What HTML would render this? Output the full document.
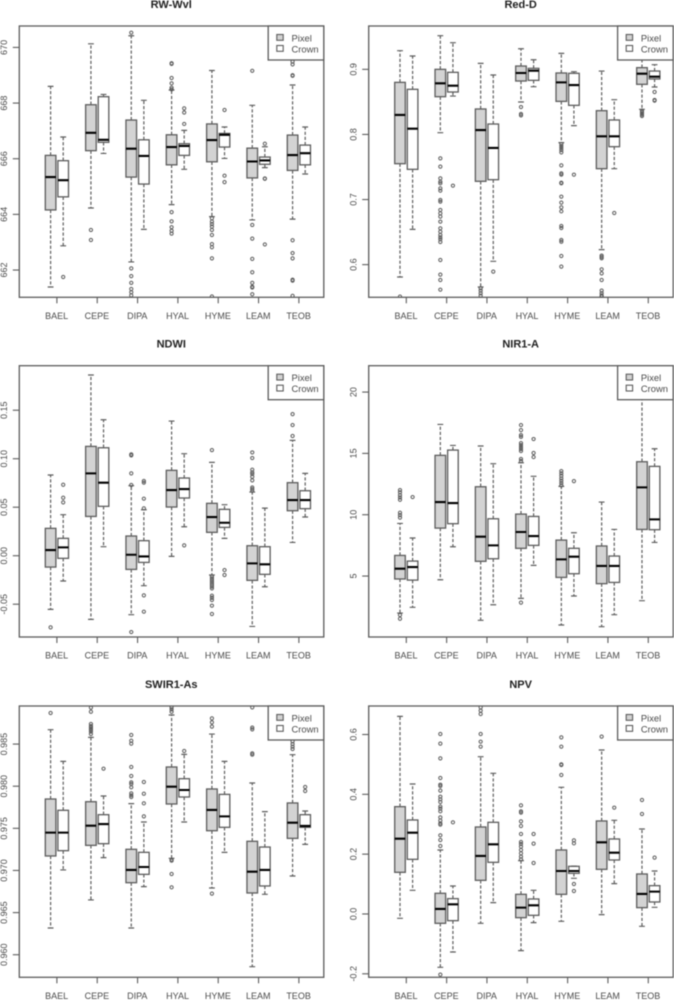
<!DOCTYPE html>
<html lang="en">
<head>
<meta charset="utf-8">
<title>Boxplots by species</title>
<style>
html,body{margin:0;padding:0;background:#fff;width:674px;height:1000px;overflow:hidden}
svg{display:block;font-family:"Liberation Sans",sans-serif;filter:blur(0.4px)}
</style>
</head>
<body>
<svg id="chart" width="674" height="1000" viewBox="0 0 674 1000" xmlns="http://www.w3.org/2000/svg"></svg>
<script>
const categories = ['BAEL','CEPE','DIPA','HYAL','HYME','LEAM','TEOB'];
const seriesNames = ['Pixel','Crown'];

/* Each stats row: lower whisker, Q1, median, Q3, upper whisker */
const rwTicks = ['662','664','666','668','670'];
const rwDomain = [661.02, 670.77];
const rwPixel = [[661.39,664.16,665.34,666.12,668.6],[664.23,666.29,666.93,667.94,670.13],[662.29,665.34,666.36,667.39,670.42],[664.35,665.78,666.42,666.86,668.47],[663.92,665.89,666.67,667.25,669.17],[663.8,665.31,665.9,666.38,667.92],[663.83,665.58,666.13,666.85,668.65]];
const rwCrown = [[662.87,664.63,665.23,665.93,666.78],[666.19,666.59,666.68,668.23,668.31],[663.46,665.09,666.1,666.68,668.1],[665.62,666.12,666.46,666.54,667.02],[666.01,666.42,666.86,666.91,667.14],[665.68,665.8,665.94,666.06,666.43],[665.45,665.78,666.2,666.49,667.14]];
const rwPixelOut = [[],[663.44,663.08],[670.53,662.06,661.78,661.54,661.32,661.2,661.09],[669.43,669.41,668.9,668.71,668.55,668.49,664.08,663.75,663.54,663.41,663.31],[663.86,663.74,663.65,663.56,663.44,663.26,662.93,662.82,662.42,661.05],[669.16,663.62,663.13,662.4,661.92,661.54,661.4,661.37,661.13],[669.49,669.39,669.0,668.98,663.07,662.61,662.42,661.65,661.62,661.07]];
const rwCrownOut = [[661.75],[],[],[667.81,667.66,667.25],[667.75,665.39,665.16],[666.54,665.29,665.28,662.92],[]];

const redTicks = ['0.6','0.7','0.8','0.9'];
const redDomain = [0.5498, 0.9666];
const redPixel = [[0.581,0.7551,0.8299,0.88,0.9287],[0.8027,0.858,0.8785,0.9,0.9517],[0.5656,0.728,0.8068,0.8391,0.9092],[0.8498,0.8821,0.8944,0.9051,0.9317],[0.7874,0.8508,0.88,0.8944,0.9246],[0.623,0.7474,0.7971,0.8365,0.8974],[0.8386,0.877,0.8933,0.9026,0.9169]];
const redCrown = [[0.6542,0.7464,0.8089,0.8693,0.9205],[0.859,0.8652,0.8749,0.8954,0.941],[0.6051,0.7305,0.7792,0.816,0.8913],[0.8734,0.8831,0.898,0.9015,0.9148],[0.8135,0.8447,0.8759,0.8939,0.8964],[0.7474,0.7812,0.7971,0.8222,0.8534],[0.8729,0.8852,0.8887,0.8974,0.9072]];
const redPixelOut = [[0.5508],[0.7633,0.7505,0.7326,0.7274,0.7249,0.7172,0.7136,0.6993,0.6967,0.684,0.6788,0.6737,0.666,0.6558,0.6506,0.6455,0.6419,0.6389,0.6348,0.6071,0.5846,0.5764,0.5615],[0.5636,0.56,0.556,0.5523],[0.8421,0.8314,0.8293],[0.7853,0.7822,0.7791,0.776,0.7725,0.7525,0.7402,0.7382,0.7259,0.7249,0.7044,0.6952,0.688,0.6819,0.6593,0.6563,0.6378,0.6352,0.6133,0.5969],[0.6138,0.6117,0.6097,0.5928,0.5866,0.5764,0.56,0.556,0.5528,0.5508],[0.8365,0.8345,0.8324,0.8304,0.8283]];
const redCrownOut = [[],[0.7213],[0.5892],[],[0.7382],[0.6793],[0.8652,0.8529,0.8519]];

const ndwiTicks = ['-0.05','0.00','0.05','0.10','0.15'];
const ndwiDomain = [-0.0838, 0.1959];
const ndwiPixel = [[-0.0553,-0.0117,0.0058,0.0282,0.0832],[-0.0656,0.0405,0.0849,0.1127,0.1863],[-0.0608,-0.0141,0.001,0.0203,0.0722],[-0.0007,0.0502,0.0677,0.088,0.1388],[-0.0199,0.0241,0.0399,0.054,0.0962],[-0.0729,-0.0254,-0.0079,0.0103,0.0656],[0.0137,0.0464,0.0574,0.0753,0.1189]];
const ndwiCrown = [[-0.0261,-0.0027,0.0086,0.0179,0.0423],[0.0093,0.0509,0.0753,0.1113,0.1402],[-0.0309,-0.0069,-0.0007,0.0155,0.0474],[0.0299,0.0595,0.0687,0.0801,0.1052],[0.0179,0.0292,0.034,0.0478,0.0526],[-0.032,-0.0192,-0.0089,0.0093,0.0491],[0.0399,0.0485,0.0574,0.067,0.0849]];
const ndwiPixelOut = [[-0.0739],[],[0.1045,0.1034,0.0849,0.0729,-0.0787],[],[0.1089,-0.0216,-0.0234,-0.0251,-0.0268,-0.0285,-0.0302,-0.0319,-0.0337,-0.0412,-0.0433,-0.0457,-0.0515,-0.0601],[0.1065,0.1007,0.0887,0.0859,0.0842,0.0814,0.0777,0.0704,0.0687,0.067],[0.146,0.1347,0.1234]];
const ndwiCrownOut = [[0.0732,0.0598,0.055],[],[0.077,0.0753,0.0588,0.0488,-0.0409,-0.0577],[0.0107],[-0.0148,-0.0199],[],[]];

const nirTicks = ['5','10','15','20'];
const nirDomain = [0.03, 22.15];
const nirPixel = [[1.98,4.76,5.6,6.68,9.29],[4.7,8.91,11.03,14.84,17.36],[1.39,6.2,8.21,12.28,15.6],[3.18,7.26,8.59,10.05,14.24],[1.01,4.89,6.36,7.93,12.31],[0.87,4.38,5.82,7.45,11.03],[2.99,8.8,12.23,14.32,20.5]];
const nirCrown = [[2.45,4.67,5.73,6.22,8.1],[7.39,9.27,10.95,15.27,15.65],[2.66,6.41,7.5,9.67,14.16],[5.87,7.5,8.26,9.86,13.13],[3.37,5.19,6.58,7.26,8.53],[1.85,4.48,5.82,6.63,8.8],[7.74,8.78,9.62,13.94,15.38]];
const nirPixelOut = [[12.01,11.82,11.6,11.41,11.22,10.16,9.97,9.76,1.82,1.52],[],[],[17.31,16.9,16.49,16.35,15.84,15.68,15.51,15.35,15.19,14.54,14.38,2.83],[13.56,13.37,13.18,12.96,12.77,12.58,12.39],[],[]];
const nirCrownOut = [[11.44],[],[],[16.17,15.03,14.7],[12.74],[],[]];

const swirTicks = ['0.960','0.965','0.970','0.975','0.980','0.985'];
const swirDomain = [0.95732, 0.98952];
const swirPixel = [[0.96317,0.97172,0.97449,0.97848,0.98671],[0.9665,0.97298,0.97532,0.97816,0.9858],[0.96317,0.96855,0.97006,0.97251,0.97793],[0.97144,0.97789,0.97994,0.98228,0.98845],[0.96792,0.97472,0.97718,0.97967,0.98619],[0.95858,0.96733,0.96986,0.97346,0.98038],[0.96934,0.97381,0.97567,0.97801,0.98374]];
const swirCrown = [[0.97006,0.97235,0.97449,0.97714,0.98295],[0.97152,0.97318,0.97551,0.97662,0.97884],[0.96808,0.96954,0.97041,0.97215,0.97575],[0.97575,0.97872,0.97955,0.98089,0.98378],[0.97215,0.97512,0.97642,0.97903,0.98295],[0.96717,0.96816,0.97006,0.97278,0.97698],[0.9731,0.97512,0.97528,0.97662,0.97706]];
const swirPixelOut = [[0.98869],[0.98932,0.98884,0.98738,0.98714,0.98698,0.98682,0.98667,0.98647,0.98619],[0.98608,0.9854,0.98505,0.98228,0.98121,0.98046,0.98026,0.97987,0.97915,0.97892,0.97872],[0.98936,0.98912,0.98884,0.97128,0.97116,0.96958,0.968],[0.98805,0.98758,0.98707,0.96725],[0.98936,0.98695,0.98675,0.9839,0.98374],[0.98532,0.985,0.98469,0.98441]];
const swirCrownOut = [[],[0.98208],[0.9805,0.97911,0.97797,0.97642],[0.98418],[],[],[0.97991,0.97943]];

const npvTicks = ['-0.2','0.0','0.2','0.4','0.6'];
const npvDomain = [-0.2117, 0.6953];
const npvPixel = [[-0.0145,0.1393,0.2518,0.3588,0.6607],[-0.1783,-0.0312,0.0167,0.0691,0.2139],[-0.0312,0.1125,0.1939,0.2908,0.5259],[-0.1226,-0.0123,0.0212,0.0657,0.1783],[-0.0245,0.0657,0.1437,0.2139,0.4234],[-0.0022,0.1493,0.2396,0.3109,0.5482],[-0.0412,0.0212,0.0669,0.1337,0.2841]];
const npvCrown = [[0.0791,0.1827,0.2719,0.3142,0.4345],[-0.127,-0.0223,0.0323,0.0513,0.0936],[0.0379,0.1727,0.2329,0.3064,0.4702],[-0.029,-0.0045,0.029,0.0501,0.0791],[0.1192,0.1359,0.1437,0.1593,0.16],[0.1014,0.1805,0.205,0.2507,0.3131],[0.0223,0.0401,0.0747,0.0947,0.1437]];
const npvPixelOut = [[],[0.6017,0.5694,0.5203,0.4546,0.4323,0.4279,0.4123,0.3922,0.3833,0.3744,0.3588,0.3521,0.3432,0.3231,0.312,0.3031,0.2986,0.263,0.2474,0.2273,-0.2028],[0.6908,0.6797,0.6685,0.6017,0.576,0.5593],[0.3632,0.3432,0.3387,0.3097,0.2942,0.2674,0.2407,0.234,0.2251,0.2139,0.2028,0.1916,0.1827],[0.5905,0.5593,0.5003,0.4981,0.4646],[0.5928],[0.3811,0.3343]];
const npvCrownOut = [[],[0.3064],[],[0.2674,0.2351,0.1705],[0.2462,0.2362,0.1003,0.0769],[0.3554],[0.1883]];

const panels = [
  {title:'RW-Wvl',  key:'rw-wvl',   ticks:rwTicks,   domain:rwDomain,   pixel:rwPixel,   crown:rwCrown,   pixelOut:rwPixelOut,   crownOut:rwCrownOut,   col:0, row:0},
  {title:'Red-D',   key:'red-d',    ticks:redTicks,  domain:redDomain,  pixel:redPixel,  crown:redCrown,  pixelOut:redPixelOut,  crownOut:redCrownOut,  col:1, row:0},
  {title:'NDWI',    key:'ndwi',     ticks:ndwiTicks, domain:ndwiDomain, pixel:ndwiPixel, crown:ndwiCrown, pixelOut:ndwiPixelOut, crownOut:ndwiCrownOut, col:0, row:1},
  {title:'NIR1-A',  key:'nir1-a',   ticks:nirTicks,  domain:nirDomain,  pixel:nirPixel,  crown:nirCrown,  pixelOut:nirPixelOut,  crownOut:nirCrownOut,  col:1, row:1},
  {title:'SWIR1-As',key:'swir1-as', ticks:swirTicks, domain:swirDomain, pixel:swirPixel, crown:swirCrown, pixelOut:swirPixelOut, crownOut:swirCrownOut, col:0, row:2},
  {title:'NPV',     key:'npv',      ticks:npvTicks,  domain:npvDomain,  pixel:npvPixel,  crown:npvCrown,  pixelOut:npvPixelOut,  crownOut:npvCrownOut,  col:1, row:2}
];

const NS = 'http://www.w3.org/2000/svg';
const INK = '#5c5c5c';
const TEXT = '#4a4a4a';
const root = document.getElementById('chart');

function make(parent, tag, attrs, content) {
  const el = document.createElementNS(NS, tag);
  for (const k in attrs) el.setAttribute(k, attrs[k]);
  if (content !== undefined) el.textContent = content;
  parent.appendChild(el);
  return el;
}

function drawBox(g, stats, cx, halfW, yOf, fill) {
  const lo = yOf(stats[0]), q1 = yOf(stats[1]), med = yOf(stats[2]), q3 = yOf(stats[3]), hi = yOf(stats[4]);
  const capW = 2.9;
  const dash = {stroke:INK, 'stroke-width':1.2, 'stroke-dasharray':'3.2 1.9', fill:'none'};
  make(g, 'line', Object.assign({x1:cx, x2:cx, y1:q3, y2:hi}, dash));
  make(g, 'line', Object.assign({x1:cx, x2:cx, y1:q1, y2:lo}, dash));
  make(g, 'line', {x1:cx-capW, x2:cx+capW, y1:hi, y2:hi, stroke:INK, 'stroke-width':1.2});
  make(g, 'line', {x1:cx-capW, x2:cx+capW, y1:lo, y2:lo, stroke:INK, 'stroke-width':1.2});
  make(g, 'rect', {x:cx-halfW, y:q3, width:halfW*2, height:Math.max(q1-q3,0.1), fill:fill, stroke:INK, 'stroke-width':1.3});
  make(g, 'line', {x1:cx-halfW, x2:cx+halfW, y1:med, y2:med, stroke:'#000', 'stroke-width':2.1});
}

function drawPanel(p, idx) {
  const colLefts = [19.3, 368.7];
  const rowTops = [26, 365.7, 706];
  const W = 304.5, H = 271.3;
  const left = colLefts[p.col], top = rowTops[p.row], bottom = top + H, right = left + W;
  const firstTick = left + 37.6, step = 40.33, offset = 6.3, halfW = 5.3;
  const xOf = function (i) { return firstTick + i * step; };
  const yOf = function (v) { return bottom - (v - p.domain[0]) / (p.domain[1] - p.domain[0]) * H; };

  const panel = make(root, 'g', {});
  
  

  const clipId = 'clip' + idx;
  const defs = make(panel, 'defs', {});
  const clip = make(defs, 'clipPath', {id:clipId});
  make(clip, 'rect', {x:left, y:top, width:W, height:H});

  const title = make(panel, 'text', {x:left + W/2 - 0.3, y:top - 18, 'text-anchor':'middle', 'font-size':11, 'font-weight':'bold', fill:'#222'}, p.title);
  
  

  const plot = make(panel, 'g', {'clip-path':'url(#' + clipId + ')'});
  
  

  categories.forEach(function (cat, i) {
    const pixelGroup = make(plot, 'g', {});
    
    
    drawBox(pixelGroup, p.pixel[i], xOf(i) - offset, halfW, yOf, '#d3d3d3');
    p.pixelOut[i].forEach(function (v) {
      const c = make(pixelGroup, 'circle', {cx:xOf(i) - offset, cy:yOf(v), r:1.6, fill:'none', stroke:INK, 'stroke-width':1});
      
      
    });

    const crownGroup = make(plot, 'g', {});
    
    
    drawBox(crownGroup, p.crown[i], xOf(i) + offset, halfW, yOf, '#fff');
    p.crownOut[i].forEach(function (v) {
      const c = make(crownGroup, 'circle', {cx:xOf(i) + offset, cy:yOf(v), r:1.6, fill:'none', stroke:INK, 'stroke-width':1});
      
      
    });

    const tick = make(panel, 'line', {x1:xOf(i), x2:xOf(i), y1:bottom, y2:bottom + 6, stroke:INK, 'stroke-width':1.1});
    
    
    const label = make(panel, 'text', {x:xOf(i) - 0.3, y:bottom + 21.7, 'text-anchor':'middle', 'font-size':9, fill:TEXT}, cat);
    
    
  });

  p.ticks.forEach(function (t) {
    const y = yOf(parseFloat(t));
    const lx = left - 12.3;
    const tick = make(panel, 'line', {x1:left - 6.5, x2:left, y1:y, y2:y, stroke:INK, 'stroke-width':1.1});
    
    
    const label = make(panel, 'text', {x:lx, y:y, 'text-anchor':'middle', 'font-size':9, fill:TEXT, transform:'rotate(-90 ' + lx + ' ' + y + ')'}, t);
    
    
  });

  const frame = make(panel, 'rect', {x:left, y:top, width:W, height:H, fill:'none', stroke:INK, 'stroke-width':1.3});
  
  

  const legend = make(panel, 'g', {});
  
  
  const legW = 55.6, legH = 34, legX = right - legW;
  make(legend, 'rect', {x:legX, y:top, width:legW, height:legH, fill:'#fff', stroke:INK, 'stroke-width':1.3});
  seriesNames.forEach(function (name, i) {
    const rowY = top + 11.5 + i * 11;
    const entry = make(legend, 'g', {});
    
    
    make(entry, 'rect', {x:legX + 8.6, y:rowY - 3, width:6.4, height:5.8, fill:i === 0 ? '#d3d3d3' : '#fff', stroke:INK, 'stroke-width':1.1});
    make(entry, 'text', {x:legX + 23.3, y:rowY + 4, 'font-size':9.4, fill:TEXT}, name);
  });
}

panels.forEach(drawPanel);
</script>
</body>
</html>
